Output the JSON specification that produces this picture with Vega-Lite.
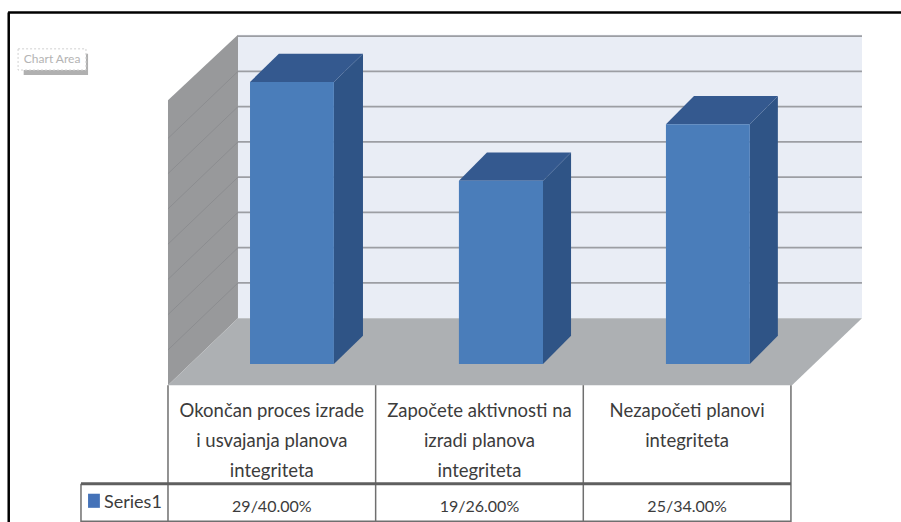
{
"$schema":"https://vega.github.io/schema/vega-lite/v6.json",
"width":901,"height":522,"padding":0,
"autosize":{"type":"fit","contains":"padding"},
"background":"#ffffff",
"config":{"view":{"stroke":null}},
"datasets":{
"wall":[{"x":0,"y":37.4,"y2":-3},{"x":0.337,"y":46.7,"y2":6.5}],
"back":[{"x":0.337,"x2":3.342,"y":46.7,"y2":6.5}],
"floor":[{"y":6.5,"x":0.337,"x2":3.342},{"y":-3,"x":0,"x2":3.005}],
"grid":[{"x":0.337,"x2":3.342,"y":11.5,"y2":11.5},{"x":0.337,"x2":3.342,"y":16.5,"y2":16.5},{"x":0.337,"x2":3.342,"y":21.5,"y2":21.5},{"x":0.337,"x2":3.342,"y":26.5,"y2":26.5},{"x":0.337,"x2":3.342,"y":31.5,"y2":31.5},{"x":0.337,"x2":3.342,"y":36.5,"y2":36.5},{"x":0.337,"x2":3.342,"y":41.5,"y2":41.5},{"x":0.337,"x2":3.342,"y":46.5,"y2":46.5}],
"wallgrid":[{"x":0,"x2":0.337,"y":2,"y2":11.5},{"x":0,"x2":0.337,"y":7,"y2":16.5},{"x":0,"x2":0.337,"y":12,"y2":21.5},{"x":0,"x2":0.337,"y":17,"y2":26.5},{"x":0,"x2":0.337,"y":22,"y2":31.5},{"x":0,"x2":0.337,"y":27,"y2":36.5},{"x":0,"x2":0.337,"y":32,"y2":41.5}],
"bars":[{"category":"Okončan proces izrade i usvajanja planova integriteta","count":29,"x":0.395,"x2":0.799,"y":40,"y2":0},{"category":"Započete aktivnosti na izradi planova integriteta","count":19,"x":1.401,"x2":1.806,"y":26,"y2":0},{"category":"Nezapočeti planovi integriteta","count":25,"x":2.398,"x2":2.802,"y":34,"y2":0}],
"sides":[{"bar":"A","x":0.799,"y":40,"y2":0},{"bar":"A","x":0.939,"y":44,"y2":4},{"bar":"B","x":1.806,"y":26,"y2":0},{"bar":"B","x":1.941,"y":30,"y2":4},{"bar":"C","x":2.802,"y":34,"y2":0},{"bar":"C","x":2.937,"y":38,"y2":4}],
"tops":[{"bar":"A","y":40,"x":0.395,"x2":0.799},{"bar":"A","y":44,"x":0.534,"x2":0.939},{"bar":"B","y":26,"x":1.401,"x2":1.806},{"bar":"B","y":30,"x":1.536,"x2":1.941},{"bar":"C","y":34,"x":2.398,"x2":2.802},{"bar":"C","y":38,"x":2.533,"x2":2.937}],
"table":[{"x":0,"x2":0,"y":-3,"y2":-22.41},{"x":1,"x2":1,"y":-3,"y2":-22.41},{"x":2,"x2":2,"y":-3,"y2":-22.41},{"x":3,"x2":3,"y":-3,"y2":-22.41},{"x":-0.419,"x2":-0.419,"y":-17,"y2":-22.41},{"x":-0.419,"x2":3,"y":-22.3,"y2":-22.3}],
"tablemid":[{"x":-0.419,"x2":3,"y":-17,"y2":-17}],
"headers":[{"x":0.5,"y":-5.4,"label":"Okončan proces izrade\ni usvajanja planova\nintegriteta"},{"x":1.5,"y":-5.4,"label":"Započete aktivnosti na\nizradi planova\nintegriteta"},{"x":2.5,"y":-5.4,"label":"Nezapočeti planovi\nintegriteta"}],
"cells":[{"x":0.5,"y":-20.3,"label":"29/40.00%"},{"x":1.5,"y":-20.3,"label":"19/26.00%"},{"x":2.5,"y":-20.3,"label":"25/34.00%"}],
"legendkey":[{"x":-0.385,"x2":-0.328,"y":-18.4,"y2":-20.4}],
"legendtext":[{"x":-0.308,"y":-19.7,"label":"Series1"}],
"tipshadow":[{"x":-0.695,"x2":-0.385,"y":44,"y2":41}],
"tipbox":[{"x":-0.722,"x2":-0.395,"y":44.7,"y2":41.7}],
"tiptext":[{"x":-0.558,"y":43.2,"label":"Chart Area"}],
"frame":[{"x":-0.77,"x2":3.53,"y":49.85,"y2":49.85},{"x":-0.767,"x2":-0.767,"y":49.85,"y2":-22.41}]
},
"encoding":{
"x":{"field":"x","type":"quantitative","axis":null,"scale":{"domain":[-0.809,3.53],"nice":false,"zero":false}},
"y":{"field":"y","type":"quantitative","axis":null,"scale":{"domain":[-22.41,51.63],"nice":false,"zero":false}}
},
"layer":[
{"data":{"name":"frame"},"mark":{"type":"rule","color":"#000000","strokeWidth":2.5,"clip":true},"encoding":{"x2":{"field":"x2"},"y2":{"field":"y2"}}},
{"data":{"name":"tipshadow"},"mark":{"type":"rect","color":"#8f8f8f","opacity":0.7},"encoding":{"x2":{"field":"x2"},"y2":{"field":"y2"}}},
{"data":{"name":"tipbox"},"mark":{"type":"rect","color":"#ffffff","stroke":"#d0d0d0","strokeDash":[2,2],"strokeWidth":1},"encoding":{"x2":{"field":"x2"},"y2":{"field":"y2"}}},
{"data":{"name":"tiptext"},"mark":{"type":"text","font":"Lato","fontSize":12,"color":"#b4b4b4","align":"center","baseline":"middle"},"encoding":{"text":{"field":"label"}}},
{"data":{"name":"back"},"mark":{"type":"rect","color":"#e9edf5"},"encoding":{"x2":{"field":"x2"},"y2":{"field":"y2"}}},
{"data":{"name":"wall"},"mark":{"type":"area","orient":"vertical","color":"#98999b"},"encoding":{"y2":{"field":"y2"}}},
{"data":{"name":"wallgrid"},"mark":{"type":"rule","color":"#8c8d90","strokeWidth":1},"encoding":{"x2":{"field":"x2"},"y2":{"field":"y2"}}},
{"data":{"name":"grid"},"mark":{"type":"rule","color":"#9c9ea3","strokeWidth":1.8},"encoding":{"x2":{"field":"x2"},"y2":{"field":"y2"}}},
{"data":{"name":"floor"},"mark":{"type":"area","orient":"horizontal","color":"#adb0b3"},"encoding":{"x2":{"field":"x2"}}},
{"data":{"name":"sides"},"mark":{"type":"area","orient":"vertical","color":"#2f5486"},"encoding":{"y2":{"field":"y2"},"detail":{"field":"bar"}}},
{"data":{"name":"tops"},"mark":{"type":"area","orient":"horizontal","color":"#34598f"},"encoding":{"x2":{"field":"x2"},"detail":{"field":"bar"}}},
{"data":{"name":"bars"},"mark":{"type":"rect","color":"#4a7dba"},"encoding":{"x2":{"field":"x2"},"y2":{"field":"y2"}}},
{"data":{"name":"table"},"mark":{"type":"rule","color":"#6f6f6f","strokeWidth":1.5,"clip":true},"encoding":{"x2":{"field":"x2"},"y2":{"field":"y2"}}},
{"data":{"name":"tablemid"},"mark":{"type":"rule","color":"#5f5f5f","strokeWidth":3},"encoding":{"x2":{"field":"x2"},"y2":{"field":"y2"}}},
{"data":{"name":"headers"},"mark":{"type":"text","font":"Lato","fontSize":18.5,"lineHeight":30,"lineBreak":"\n","color":"#3c3c3c","align":"center","baseline":"top"},"encoding":{"text":{"field":"label"}}},
{"data":{"name":"cells"},"mark":{"type":"text","font":"Lato","fontSize":16,"color":"#3c3c3c","align":"center","baseline":"middle"},"encoding":{"text":{"field":"label"}}},
{"data":{"name":"legendkey"},"mark":{"type":"rect","color":"#4472b8"},"encoding":{"x2":{"field":"x2"},"y2":{"field":"y2"}}},
{"data":{"name":"legendtext"},"mark":{"type":"text","font":"Lato","fontSize":18,"color":"#3c3c3c","align":"left","baseline":"middle"},"encoding":{"text":{"field":"label"}}}
]
}
